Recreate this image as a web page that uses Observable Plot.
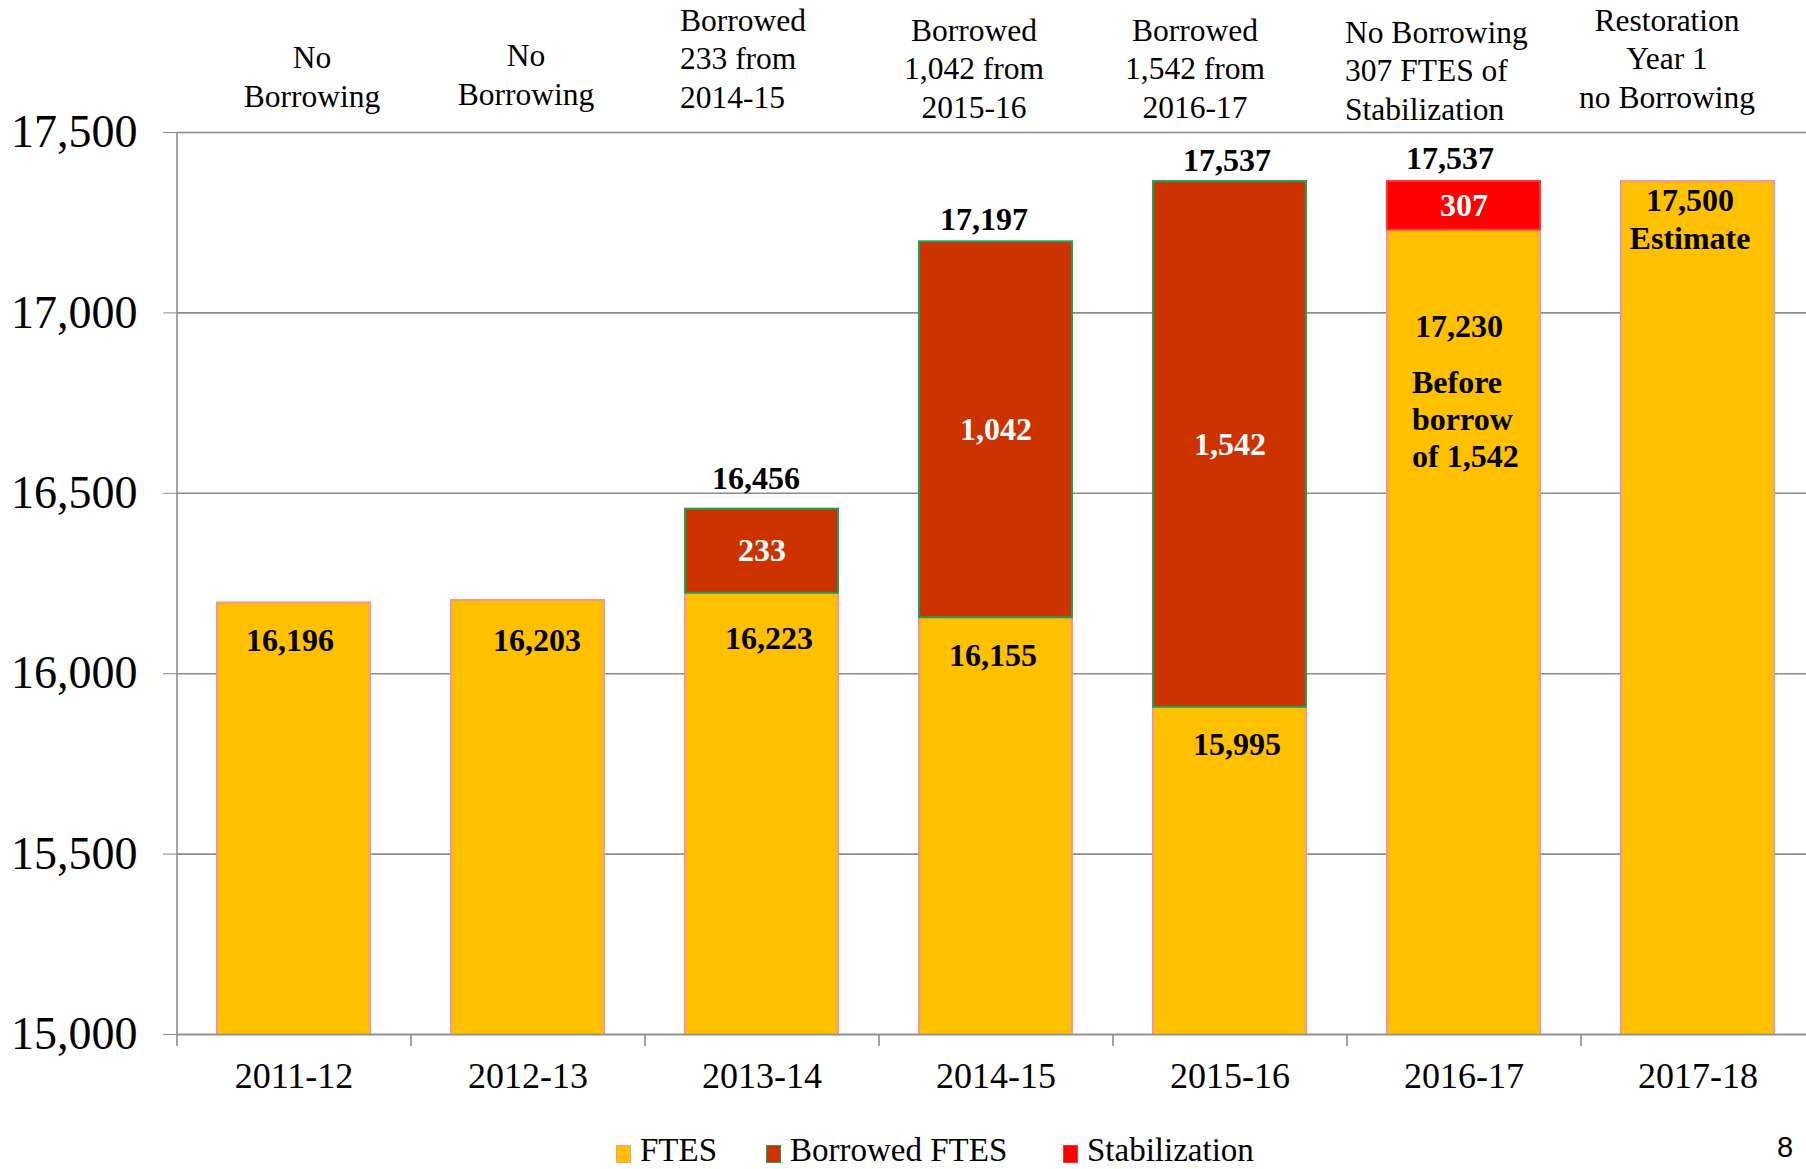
<!DOCTYPE html>
<html><head><meta charset="utf-8">
<script src="https://cdn.jsdelivr.net/npm/d3@7"></script>
<script src="https://cdn.jsdelivr.net/npm/@observablehq/plot@0.6"></script>
<style>
html,body{margin:0;padding:0;background:#fff;}
#wrap{position:relative;width:1806px;height:1169px;overflow:hidden;font-family:"Liberation Serif","Times New Roman",serif;}
#chart svg{display:block;}
.lg{position:absolute;top:1137px;font-size:33px;line-height:26px;white-space:nowrap;color:#000;}
.sw{position:absolute;top:1145px;width:13px;height:16px;}
#page{position:absolute;left:1777px;top:1134px;font-family:"Liberation Sans",Arial,sans-serif;font-size:29px;line-height:26px;color:#000;}
</style></head>
<body><div id="wrap"><div id="chart"></div><div id="legend"></div><div id="page">8</div></div>
<script>
// ---- data ----
const years = ["2011-12","2012-13","2013-14","2014-15","2015-16","2016-17","2017-18"];
const seriesNames = ["FTES","Borrowed FTES","Stabilization"];
// bar heights as drawn in the picture
const ftes = [16196,16203,16223,16155,15907,17230,17364];
const borrowed = [0,0,233,1042,1457,0,0];
const stabilization = [0,0,0,0,0,134,0];
// printed labels
const ftesLabels = ["16,196","16,203","16,223","16,155","15,995","17,230","17,500\nEstimate"];
const segmentLabels = ["","","233","1,042","1,542","307",""];
const totalLabels = ["","","16,456","17,197","17,537","17,537",""];
const innerNotes = ["","","","","","Before\nborrow\nof 1,542",""];
const headerNotes = ["No\nBorrowing","No\nBorrowing","Borrowed\n233 from\n2014-15","Borrowed\n1,042 from\n2015-16","Borrowed\n1,542 from\n2016-17","No Borrowing\n307 FTES of\nStabilization","Restoration\nYear 1\nno Borrowing"];
const yTicks = [15000,15500,16000,16500,17000,17500];

// ---- style ----
const fills = {"FTES":"#FFC000","Borrowed FTES":"#CC3300","Stabilization":"#FF0000"};
const strokes = {"FTES":"#F4978E","Borrowed FTES":"#1FA055","Stabilization":"#FF3030"};
const noteDx = [18,-2,-82,-22,-35,-119,-31];
const noteAnchor = ["middle","middle","start","middle","middle","start","middle"];
const noteBaseline = [106,104,107,117,117,119,107];
const ftesDx = [-4,9,7,-3,7,-5,-8];
const ftesDy = [36,38,44,36,36,95,36];
const totalDx = [0,0,-6,-12,-3,-14,0];
const totalDy = [0,0,-30,-22,-21,-23,0];
const grid = "#8c8c8c";
const W = 1806, H = 1120, mTop = 132, mBottom = 86, mLeft = 177;
const step = 234;
const xRange = [mLeft, mLeft + step * years.length];

const rows = [];
years.forEach((year, i) => {
  let base = 0;
  [ftes[i], borrowed[i], stabilization[i]].forEach((v, k) => {
    if (v > 0) {
      rows.push({year, i, series: seriesNames[k], y1: base, y2: base + v, mid: base + v / 2,
        label: k === 0 ? ftesLabels[i] : segmentLabels[i]});
      base += v;
    }
  });
});
const tops = years.map((year, i) => ({year, i, top: ftes[i] + borrowed[i] + stabilization[i], label: totalLabels[i]}));

const marks = [];
marks.push(Plot.ruleY(yTicks, {y: d => d, stroke: grid, strokeWidth: 1.6}));
seriesNames.forEach(s => {
  marks.push(Plot.barY(rows.filter(r => r.series === s), {
    x: "year", y1: "y1", y2: "y2", fill: fills[s], stroke: strokes[s], strokeWidth: 2, clip: true
  }));
});
marks.push(Plot.ruleY([yTicks[0]], {y: d => d, stroke: grid, strokeWidth: 1.6}));
marks.push(Plot.ruleX([years[0]], {x: d => d, dx: -step / 2, y1: yTicks[0], y2: yTicks[yTicks.length - 1], stroke: grid, strokeWidth: 1.6}));
marks.push(Plot.ruleX(years, {x: d => d, dx: -step / 2, y1: yTicks[0], y2: yTicks[0], insetBottom: -12, stroke: grid, strokeWidth: 1.6}));
marks.push(Plot.axisY({ticks: yTicks, tickFormat: d3.format(","), tickSize: 14, tickPadding: 26, fontSize: 46, stroke: grid, fill: "#000"}));
marks.push(Plot.axisX({tickSize: 0, tickPadding: 28, fontSize: 36, fill: "#000"}));

// FTES labels
rows.filter(r => r.series === "FTES").forEach(r => {
  marks.push(Plot.text([r], {x: "year", y: "y2", text: "label", dx: ftesDx[r.i], dy: ftesDy[r.i],
    fontSize: 32, fontWeight: "bold", lineHeight: 1.19, fill: "#000"}));
});
// segment labels (white)
marks.push(Plot.text(rows.filter(r => r.series !== "FTES" && r.label), {x: "year", y: "mid", text: "label",
  fontSize: 32, fontWeight: "bold", fill: "#fff"}));
// totals above bars
tops.filter(t => t.label).forEach(t => {
  marks.push(Plot.text([t], {x: "year", y: "top", text: "label", dx: totalDx[t.i], dy: totalDy[t.i],
    fontSize: 32, fontWeight: "bold", fill: "#000"}));
});
// inner notes
years.forEach((year, i) => {
  if (!innerNotes[i]) return;
  marks.push(Plot.text([{year, y: ftes[i], t: innerNotes[i]}], {x: "year", y: "y", text: "t", dx: -52, dy: 136,
    textAnchor: "start", lineAnchor: "top", lineHeight: 1.17, fontSize: 32, fontWeight: "bold", fill: "#000"}));
});
// header notes
years.forEach((year, i) => {
  marks.push(Plot.text([{year, t: headerNotes[i]}], {x: "year", text: "t", frameAnchor: "top",
    dx: noteDx[i], dy: noteBaseline[i] - mTop, textAnchor: noteAnchor[i], lineAnchor: "bottom",
    lineHeight: 1.21, fontSize: 31.5, fill: "#000"}));
});

const chart = Plot.plot({
  width: W, height: H,
  marginTop: mTop, marginBottom: mBottom, marginLeft: mLeft, marginRight: 0,
  style: {fontFamily: "'Liberation Serif','Times New Roman',serif", background: "transparent", overflow: "visible"},
  x: {domain: years, range: xRange, paddingInner: 0.346, paddingOuter: 0.173, align: 0.5, label: null},
  y: {domain: [yTicks[0], yTicks[yTicks.length - 1]], label: null},
  marks
});
document.getElementById("chart").append(chart);

// legend
const legendX = [616, 766, 1063];
const legend = document.getElementById("legend");
seriesNames.forEach((s, k) => {
  const sw = document.createElement("div");
  sw.className = "sw";
  sw.style.left = legendX[k] + "px";
  sw.style.background = fills[s];
  sw.style.border = "1px solid " + strokes[s];
  legend.append(sw);
  const t = document.createElement("div");
  t.className = "lg";
  t.style.left = (legendX[k] + 24) + "px";
  t.textContent = s;
  legend.append(t);
});
</script>
</body></html>
